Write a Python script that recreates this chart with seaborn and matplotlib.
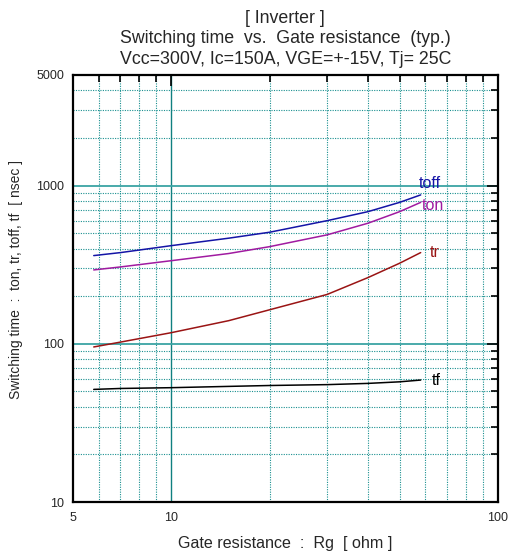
import numpy as np
import pandas as pd
import matplotlib
matplotlib.use("Agg")
import matplotlib.pyplot as plt
import matplotlib.ticker as mticker
import seaborn as sns

# Values
rg = [5.8, 7, 10, 15, 20, 30, 40, 50, 58]
t_off = [361, 377, 417, 465, 507, 600, 684, 783, 873]
t_on = [293, 306, 335, 372, 411, 488, 578, 684, 783]
t_r = [95.5, 102.5, 117.5, 140, 164, 205, 262, 323, 377]
t_f = [51.5, 52.2, 52.8, 53.8, 54.5, 55.2, 56.2, 57.5, 59]

series_names = ["toff", "ton", "tr", "tf"]
series_colors = ["#1414a6", "#a01aa0", "#9a1414", "#000000"]

df = pd.DataFrame({
    "Rg": rg * 4,
    "t": t_off + t_on + t_r + t_f,
    "kind": np.repeat(series_names, len(rg)),
})

sns.set_style("white")
plt.rcParams['font.family'] = ['Liberation Sans', 'DejaVu Sans']

fig = plt.figure(figsize=(5.1, 5.57), dpi=100)
ax = fig.add_axes([0.1425, 0.0987, 0.834, 0.7667])

sns.lineplot(data=df, x="Rg", y="t", hue="kind", palette=series_colors,
             hue_order=series_names, ax=ax, legend=False, linewidth=1.1)

ax.set_xscale("log")
ax.set_yscale("log")
ax.set_xlim(5, 100)
ax.set_ylim(10, 5000)

x_minor = [6, 7, 8, 9, 20, 30, 40, 50, 60, 70, 80, 90]
y_minor = [20, 30, 40, 50, 60, 70, 80, 90, 200, 300, 400, 500, 600, 700, 800, 900,
           2000, 3000, 4000]

# dotted minor grid, solid major lines
grid_c = "#1a9090"
for v in x_minor:
    ax.axvline(v, color=grid_c, ls=(0, (1, 1.2)), lw=0.8, zorder=0)
for v in y_minor:
    ax.axhline(v, color=grid_c, ls=(0, (1, 1.2)), lw=0.8, zorder=0)
ax.axvline(10, color="#108080", lw=1.0, zorder=0)
for v in [100, 1000]:
    ax.axhline(v, color="#3aa4a4", lw=1.3, zorder=0)

ax.xaxis.set_major_locator(mticker.FixedLocator([5, 10, 100]))
ax.xaxis.set_major_formatter(mticker.FixedFormatter(["5", "10", "100"]))
ax.xaxis.set_minor_locator(mticker.FixedLocator(x_minor))
ax.xaxis.set_minor_formatter(mticker.NullFormatter())
ax.yaxis.set_major_locator(mticker.FixedLocator([10, 100, 1000, 5000]))
ax.yaxis.set_major_formatter(mticker.FixedFormatter(["10", "100", "1000", "5000"]))
ax.yaxis.set_minor_locator(mticker.FixedLocator(y_minor))
ax.yaxis.set_minor_formatter(mticker.NullFormatter())

ax.tick_params(which="both", direction="in", top=True, right=True, color="black",
               labelsize=9)
ax.tick_params(which="major", length=8, width=1.2)
ax.tick_params(which="minor", length=5, width=1.2)
ax.tick_params(axis="x", pad=7)
ax.tick_params(axis="y", pad=6)

for s in ax.spines.values():
    s.set_color("black")
    s.set_linewidth(1.6)

ax.set_xlabel("Gate resistance  :  Rg  [ ohm ]", fontsize=11.6, labelpad=9)
ax.set_ylabel("Switching time  :  ton, tr, toff, tf  [ nsec ]", fontsize=10)
ax.yaxis.set_label_coords(-0.117, 0.52)
ax.set_title("[ Inverter ]\nSwitching time  vs.  Gate resistance  (typ.)\n"
             "Vcc=300V, Ic=150A, VGE=+-15V, Tj= 25C", fontsize=12.8, pad=8,
             linespacing=1.27)

ax.text(57.2, 1037, "toff", color=series_colors[0], fontsize=11.5, va="center")
ax.text(58.6, 743, "ton", color=series_colors[1], fontsize=11.5, va="center")
ax.text(61.7, 377, "tr", color=series_colors[2], fontsize=11.5, va="center")
ax.text(62.8, 58.2, "tf", color=series_colors[3], fontsize=11.5, va="center")

fig.savefig("out.png", dpi=100)
